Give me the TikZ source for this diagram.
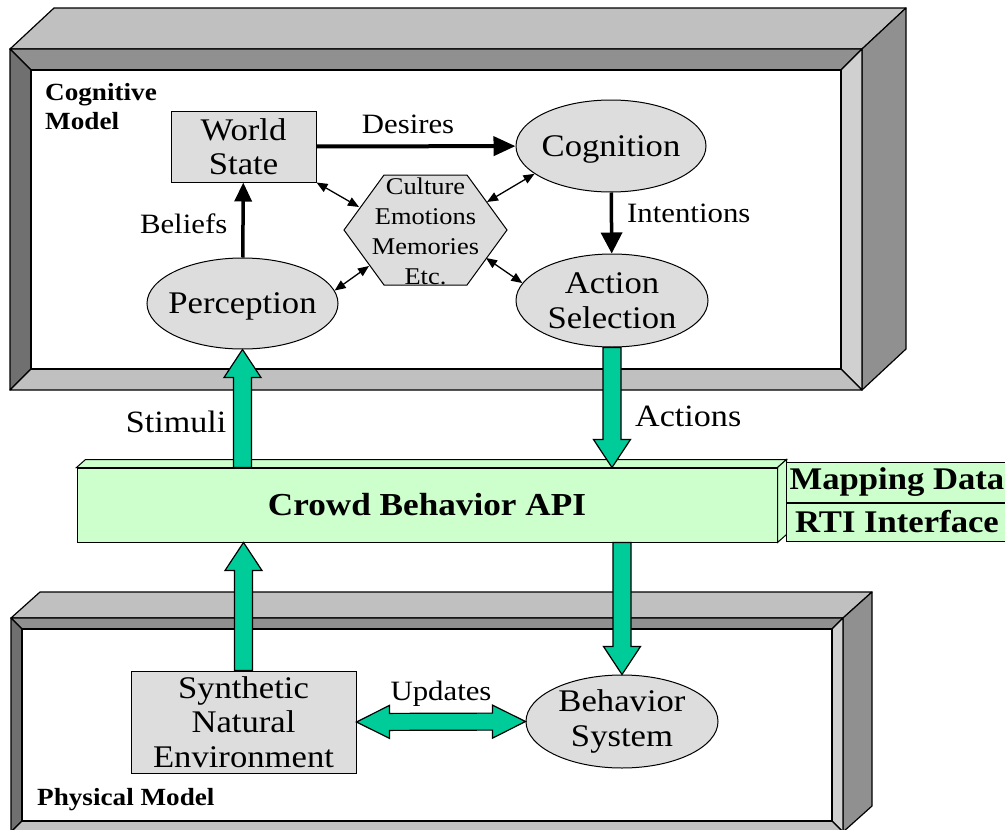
\documentclass[tikz,border=0pt]{standalone}
\usepackage{fontspec}
\setmainfont[FakeStretch=1.1]{Liberation Serif}
\usetikzlibrary{arrows.meta,calc,positioning,shapes.geometric}
\definecolor{gF}{RGB}{221,221,221}
\definecolor{gA}{RGB}{192,192,192}
\definecolor{gB}{RGB}{144,144,144}
\definecolor{gC}{RGB}{112,112,112}
\definecolor{gD}{RGB}{208,208,208}
\definecolor{tl}{RGB}{0,204,153}
\definecolor{mint}{RGB}{204,255,204}
% 3d frame: x1,y1,x2,y2,band,dx,dy
\newcommand{\cmframe}[7]{
    \draw[FR, fill=gA] (#1,#2) -- ({#1+#6},{#2-#7}) -- ({#3+#6},{#2-#7}) -- (#3,#2) -- cycle;
    \draw[FR, fill=gB] (#3,#2) -- ({#3+#6},{#2-#7}) -- ({#3+#6},{#4-#7}) -- (#3,#4) -- cycle;
    \draw[FR, fill=gB] (#1,#2) -- (#3,#2) -- ({#3-#5},{#2+#5}) -- ({#1+#5},{#2+#5}) -- cycle;
    \draw[FR, fill=gC] (#1,#2) -- ({#1+#5},{#2+#5}) -- ({#1+#5},{#4-#5}) -- (#1,#4) -- cycle;
    \draw[FR, fill=gD] (#3,#2) -- (#3,#4) -- ({#3-#5},{#4-#5}) -- ({#3-#5},{#2+#5}) -- cycle;
    \draw[FR, fill=gA] (#1,#4) -- ({#1+#5},{#4-#5}) -- ({#3-#5},{#4-#5}) -- (#3,#4) -- cycle;
    \draw[FR, fill=white] ({#1+#5},{#2+#5}) rectangle ({#3-#5},{#4-#5});
}
\tikzset{
    FR/.style ={draw, line width=1.2pt, line join=round},
    EL/.style ={ellipse, draw, fill=gF, line width=1pt, inner sep=-10pt, align=center, font=\fontsize{31.5}{34.5}\selectfont},
    RA/.style ={rectangle, draw, fill=gF, line width=1pt, inner sep=0pt, align=center, font=\fontsize{31.5}{34.5}\selectfont},
    HX/.style ={draw, fill=gF, line width=1pt},
    HT/.style ={inner sep=0pt, align=center, font=\fontsize{24}{30}\selectfont},
    AB/.style ={rectangle, draw, fill=mint, line width=1pt, inner sep=0pt, font=\bfseries\fontsize{32}{34}\selectfont},
    AF/.style ={draw, fill=mint, line width=1pt},
    MB/.style ={rectangle, draw, fill=mint, line width=1pt, inner sep=0pt, minimum width=222pt, font=\bfseries\fontsize{31.5}{33}\selectfont},
    TL/.style ={inner sep=0pt, align=left, font=\bfseries\fontsize{24.7}{29}\selectfont},
    LB/.style ={inner sep=0pt, font=\fontsize{28}{30}\selectfont},
    LA/.style ={inner sep=0pt, font=\fontsize{31}{33}\selectfont},
    SA/.style ={line width=1.3pt, {Triangle[length=11pt,width=9pt]}-{Triangle[length=11pt,width=9pt]}},
    FA/.style ={draw, fill=tl, line width=1.2pt,
        to path={-- ($(\tikztostart)!9pt!90:(\tikztotarget)$)
            -- ($($(\tikztotarget)!28pt!(\tikztostart)$)!9pt!90:(\tikztotarget)$)
            -- ($($(\tikztotarget)!28pt!(\tikztostart)$)!18.5pt!90:(\tikztotarget)$)
            -- (\tikztotarget)
            -- ($($(\tikztotarget)!28pt!(\tikztostart)$)!18.5pt!-90:(\tikztotarget)$)
            -- ($($(\tikztotarget)!28pt!(\tikztostart)$)!9pt!-90:(\tikztotarget)$)
            -- ($(\tikztostart)!9pt!-90:(\tikztotarget)$)
            -- cycle}},
    FD/.style ={draw, fill=tl, line width=1.2pt,
        to path={-- ($($(\tikztostart)!33pt!(\tikztotarget)$)!16.5pt!90:(\tikztotarget)$)
            -- ($($(\tikztostart)!33pt!(\tikztotarget)$)!8.5pt!90:(\tikztotarget)$)
            -- ($($(\tikztotarget)!33pt!(\tikztostart)$)!8.5pt!90:(\tikztotarget)$)
            -- ($($(\tikztotarget)!33pt!(\tikztostart)$)!16.5pt!90:(\tikztotarget)$)
            -- (\tikztotarget)
            -- ($($(\tikztotarget)!33pt!(\tikztostart)$)!16.5pt!-90:(\tikztotarget)$)
            -- ($($(\tikztotarget)!33pt!(\tikztostart)$)!8.5pt!-90:(\tikztotarget)$)
            -- ($($(\tikztostart)!33pt!(\tikztotarget)$)!8.5pt!-90:(\tikztotarget)$)
            -- ($($(\tikztostart)!33pt!(\tikztotarget)$)!16.5pt!-90:(\tikztotarget)$)
            -- cycle}}}
\begin{document}
\begin{tikzpicture}[x=1pt,y=-1pt]
    \useasboundingbox (0,0) rectangle (1005,830);
    \cmframe{10}{49}{862}{390}{21}{44}{41}
    \cmframe{11}{618}{843}{832}{11}{29}{26}
    \node[TL, anchor=north west] (11) at (45,83) {Cognitive\\Model};
    \node[TL, anchor=west] (12) at (37,800) {Physical Model};
    \node[RA, minimum width=145pt, minimum height=71pt] (1) at (243.5,146.5) {World\\State};
    \node[EL, minimum width=190pt, minimum height=92pt, text depth=0pt] (2) at (611,146) {Cognition};
    \node[EL, minimum width=191pt, minimum height=91pt, text depth=0pt] (3) at (242.5,303.5) {Perception};
    \node[EL, minimum width=192pt, minimum height=93pt] (4) at (612,300.5) {Action\\Selection};
    \draw[HX] (344,230) -- ++(40,-55) -- ++(83,0) -- ++(40,55) -- ++(-40,55) -- ++(-83,0) -- cycle;
    \node[HT] (5) at (425.5,231) {Culture\\Emotions\\Memories\\Etc.};
    \coordinate (h1) at (359,207);
    \coordinate (h2) at (487,202);
    \coordinate (h3) at (369,266);
    \coordinate (h4) at (486,258);
    \node[AB, minimum width=700pt, minimum height=74pt] (6) at (427,505) {Crowd Behavior API};
    \draw[AF] (6.north west) -- ++(9,-8) -- ($(6.north east)+(9,-8)$) -- (6.north east) -- cycle;
    \draw[AF] (6.north east) -- ++(9,-8) -- ($(6.south east)+(9,-8)$) -- (6.south east) -- cycle;
    \node[MB, minimum height=40pt] (7) at (897,482) {Mapping Data};
    \node[MB, minimum height=38pt, below=0pt of 7] (8) {RTI Interface};
    \node[RA, minimum width=225pt, minimum height=102pt] (9) at (243.5,722) {Synthetic\\Natural\\Environment};
    \node[EL, minimum width=192pt, minimum height=93pt] (10) at (622,721.5) {Behavior\\System};
    \draw[line width=4pt, -{Triangle[length=22pt,width=19pt]}] (1) -- (2) node[LB, pos=0.46, above=11pt]{Desires};
    \draw[line width=3.5pt, -{Triangle[length=19pt,width=17pt]}] (3) -- (1) node[LB, pos=0.45, left=14pt]{Beliefs};
    \draw[line width=3.5pt, -{Triangle[length=21pt,width=21pt]}] (2) -- (4) node[LB, pos=0.34, right=14pt]{Intentions};
    \draw[SA] (1.south east) -- (h1);
    \draw[SA] (2.200) -- (h2);
    \draw[SA] (3.8) -- (h3);
    \draw[SA] (4.169) -- (h4);
    \draw[FA] (3.south |- 6.north) to (3.south);
    \draw[FA] (4.south) to (4.south |- 6.north);
    \draw[FA] (9.north) to (9.north |- 6.south);
    \draw[FA] (6.south -| 10.north) to (10.north);
    \draw[FD] (9.east) to (10.west);
    \path (3.south |- 6.north) -- (3.south) node[LA, pos=0.39, left=16pt]{Stimuli};
    \path (4.south) -- (4.south |- 6.north) node[LA, pos=0.575, right=23pt]{Actions};
    \path (9.east) -- (10.west) node[LB, midway, above=15pt]{Updates};
\end{tikzpicture}
\end{document}
